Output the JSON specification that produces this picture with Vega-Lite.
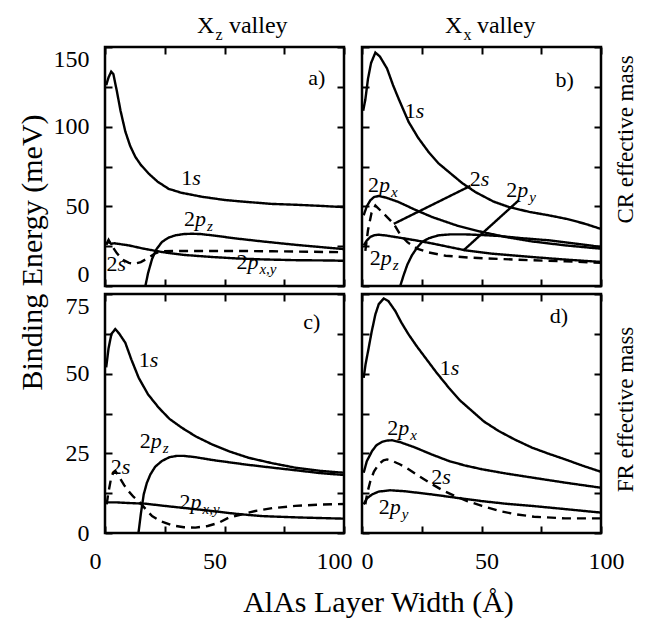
{
  "$schema": "https://vega.github.io/schema/vega-lite/v6.json",
  "background": "white",
  "padding": {"left": 15, "top": 12, "right": 5, "bottom": 5},
  "datasets": {
    "curves": [
      {"panel":"a","series":"1s","dash":"solid","x":0.5,"y":126},{"panel":"a","series":"1s","dash":"solid","x":1.5,"y":131},{"panel":"a","series":"1s","dash":"solid","x":2.6,"y":134.5},{"panel":"a","series":"1s","dash":"solid","x":3.5,"y":133},{"panel":"a","series":"1s","dash":"solid","x":5,"y":122},{"panel":"a","series":"1s","dash":"solid","x":6.5,"y":110},{"panel":"a","series":"1s","dash":"solid","x":8.5,"y":97},{"panel":"a","series":"1s","dash":"solid","x":10.5,"y":88},{"panel":"a","series":"1s","dash":"solid","x":12.7,"y":81},{"panel":"a","series":"1s","dash":"solid","x":15,"y":76},{"panel":"a","series":"1s","dash":"solid","x":18.3,"y":70.5},{"panel":"a","series":"1s","dash":"solid","x":22,"y":65.5},{"panel":"a","series":"1s","dash":"solid","x":26.6,"y":61},{"panel":"a","series":"1s","dash":"solid","x":32,"y":58.5},{"panel":"a","series":"1s","dash":"solid","x":40.6,"y":56},{"panel":"a","series":"1s","dash":"solid","x":50,"y":54},{"panel":"a","series":"1s","dash":"solid","x":57.3,"y":53},{"panel":"a","series":"1s","dash":"solid","x":70,"y":51.5},{"panel":"a","series":"1s","dash":"solid","x":79.6,"y":51},{"panel":"a","series":"1s","dash":"solid","x":90,"y":50.3},{"panel":"a","series":"1s","dash":"solid","x":100,"y":49.5},
      {"panel":"a","series":"2pz","dash":"solid","x":16.9,"y":0},{"panel":"a","series":"2pz","dash":"solid","x":18,"y":8},{"panel":"a","series":"2pz","dash":"solid","x":19.7,"y":17},{"panel":"a","series":"2pz","dash":"solid","x":21.5,"y":23},{"panel":"a","series":"2pz","dash":"solid","x":23.8,"y":27.6},{"panel":"a","series":"2pz","dash":"solid","x":26.5,"y":30.3},{"panel":"a","series":"2pz","dash":"solid","x":29.4,"y":31.8},{"panel":"a","series":"2pz","dash":"solid","x":33,"y":32.6},{"panel":"a","series":"2pz","dash":"solid","x":36.4,"y":32.8},{"panel":"a","series":"2pz","dash":"solid","x":40,"y":32.6},{"panel":"a","series":"2pz","dash":"solid","x":44.8,"y":31.8},{"panel":"a","series":"2pz","dash":"solid","x":55,"y":29.8},{"panel":"a","series":"2pz","dash":"solid","x":65.7,"y":28},{"panel":"a","series":"2pz","dash":"solid","x":80,"y":25.8},{"panel":"a","series":"2pz","dash":"solid","x":95,"y":23.8},{"panel":"a","series":"2pz","dash":"solid","x":100,"y":23.2},
      {"panel":"a","series":"2pxy","dash":"solid","x":0.5,"y":26},{"panel":"a","series":"2pxy","dash":"solid","x":1.5,"y":28},{"panel":"a","series":"2pxy","dash":"solid","x":2.5,"y":26.5},{"panel":"a","series":"2pxy","dash":"solid","x":4,"y":26.8},{"panel":"a","series":"2pxy","dash":"solid","x":9.9,"y":25.5},{"panel":"a","series":"2pxy","dash":"solid","x":16,"y":23.5},{"panel":"a","series":"2pxy","dash":"solid","x":23.8,"y":21.3},{"panel":"a","series":"2pxy","dash":"solid","x":33,"y":19.5},{"panel":"a","series":"2pxy","dash":"solid","x":44.8,"y":18.2},{"panel":"a","series":"2pxy","dash":"solid","x":55,"y":17.3},{"panel":"a","series":"2pxy","dash":"solid","x":65.7,"y":16.7},{"panel":"a","series":"2pxy","dash":"solid","x":80,"y":16.2},{"panel":"a","series":"2pxy","dash":"solid","x":95,"y":16},{"panel":"a","series":"2pxy","dash":"solid","x":100,"y":15.8},
      {"panel":"a","series":"2s","dash":"dashed","x":0.5,"y":26},{"panel":"a","series":"2s","dash":"dashed","x":1.5,"y":29},{"panel":"a","series":"2s","dash":"dashed","x":3,"y":25},{"panel":"a","series":"2s","dash":"dashed","x":5,"y":20.5},{"panel":"a","series":"2s","dash":"dashed","x":7.5,"y":16.5},{"panel":"a","series":"2s","dash":"dashed","x":10,"y":14.5},{"panel":"a","series":"2s","dash":"dashed","x":12.5,"y":14},{"panel":"a","series":"2s","dash":"dashed","x":15,"y":15},{"panel":"a","series":"2s","dash":"dashed","x":18,"y":17.5},{"panel":"a","series":"2s","dash":"dashed","x":21,"y":20.5},{"panel":"a","series":"2s","dash":"dashed","x":24,"y":21.8},{"panel":"a","series":"2s","dash":"dashed","x":30,"y":22},{"panel":"a","series":"2s","dash":"dashed","x":40,"y":22},{"panel":"a","series":"2s","dash":"dashed","x":55,"y":22},{"panel":"a","series":"2s","dash":"dashed","x":70,"y":21.8},{"panel":"a","series":"2s","dash":"dashed","x":85,"y":21.5},{"panel":"a","series":"2s","dash":"dashed","x":100,"y":21.2},

      {"panel":"b","series":"1s","dash":"solid","x":0.5,"y":110},{"panel":"b","series":"1s","dash":"solid","x":1.4,"y":117},{"panel":"b","series":"1s","dash":"solid","x":2.5,"y":130},{"panel":"b","series":"1s","dash":"solid","x":3.8,"y":140},{"panel":"b","series":"1s","dash":"solid","x":5.6,"y":146.5},{"panel":"b","series":"1s","dash":"solid","x":7.5,"y":144},{"panel":"b","series":"1s","dash":"solid","x":10.5,"y":136.4},{"panel":"b","series":"1s","dash":"solid","x":13,"y":126},{"panel":"b","series":"1s","dash":"solid","x":15.3,"y":117.6},{"panel":"b","series":"1s","dash":"solid","x":19.5,"y":103},{"panel":"b","series":"1s","dash":"solid","x":23.5,"y":93},{"panel":"b","series":"1s","dash":"solid","x":27.9,"y":84},{"panel":"b","series":"1s","dash":"solid","x":32,"y":77},{"panel":"b","series":"1s","dash":"solid","x":36.3,"y":71.6},{"panel":"b","series":"1s","dash":"solid","x":42,"y":64.5},{"panel":"b","series":"1s","dash":"solid","x":47.4,"y":59},{"panel":"b","series":"1s","dash":"solid","x":55,"y":53},{"panel":"b","series":"1s","dash":"solid","x":61.4,"y":49.6},{"panel":"b","series":"1s","dash":"solid","x":70,"y":46.5},{"panel":"b","series":"1s","dash":"solid","x":78,"y":44.4},{"panel":"b","series":"1s","dash":"solid","x":86,"y":42},{"panel":"b","series":"1s","dash":"solid","x":93.4,"y":39},{"panel":"b","series":"1s","dash":"solid","x":100,"y":35.8},
      {"panel":"b","series":"2px","dash":"solid","x":0.7,"y":44.4},{"panel":"b","series":"2px","dash":"solid","x":2,"y":50},{"panel":"b","series":"2px","dash":"solid","x":3.5,"y":53.8},{"panel":"b","series":"2px","dash":"solid","x":5,"y":55.8},{"panel":"b","series":"2px","dash":"solid","x":7,"y":56.5},{"panel":"b","series":"2px","dash":"solid","x":10,"y":55.5},{"panel":"b","series":"2px","dash":"solid","x":15.3,"y":52.7},{"panel":"b","series":"2px","dash":"solid","x":22,"y":48},{"panel":"b","series":"2px","dash":"solid","x":29.3,"y":43.3},{"panel":"b","series":"2px","dash":"solid","x":40,"y":37.8},{"panel":"b","series":"2px","dash":"solid","x":50.2,"y":33.9},{"panel":"b","series":"2px","dash":"solid","x":60,"y":30.8},{"panel":"b","series":"2px","dash":"solid","x":71,"y":28},{"panel":"b","series":"2px","dash":"solid","x":85,"y":25.5},{"panel":"b","series":"2px","dash":"solid","x":100,"y":23.4},
      {"panel":"b","series":"2pz","dash":"solid","x":16,"y":0},{"panel":"b","series":"2pz","dash":"solid","x":17.4,"y":6.7},{"panel":"b","series":"2pz","dash":"solid","x":19,"y":13.5},{"panel":"b","series":"2pz","dash":"solid","x":20.9,"y":19.3},{"panel":"b","series":"2pz","dash":"solid","x":23,"y":24},{"panel":"b","series":"2pz","dash":"solid","x":25.1,"y":27.6},{"panel":"b","series":"2pz","dash":"solid","x":28,"y":30},{"panel":"b","series":"2pz","dash":"solid","x":32,"y":31.8},{"panel":"b","series":"2pz","dash":"solid","x":37,"y":32.4},{"panel":"b","series":"2pz","dash":"solid","x":43.2,"y":32.4},{"panel":"b","series":"2pz","dash":"solid","x":50,"y":32},{"panel":"b","series":"2pz","dash":"solid","x":57.2,"y":31.4},{"panel":"b","series":"2pz","dash":"solid","x":67,"y":30},{"panel":"b","series":"2pz","dash":"solid","x":78,"y":28.7},{"panel":"b","series":"2pz","dash":"solid","x":90,"y":26.5},{"panel":"b","series":"2pz","dash":"solid","x":100,"y":24.5},
      {"panel":"b","series":"2py","dash":"solid","x":0.7,"y":25.5},{"panel":"b","series":"2py","dash":"solid","x":2,"y":28.5},{"panel":"b","series":"2py","dash":"solid","x":3.5,"y":30.8},{"panel":"b","series":"2py","dash":"solid","x":5,"y":31.8},{"panel":"b","series":"2py","dash":"solid","x":7,"y":32.2},{"panel":"b","series":"2py","dash":"solid","x":10,"y":31.7},{"panel":"b","series":"2py","dash":"solid","x":15,"y":30.5},{"panel":"b","series":"2py","dash":"solid","x":22.3,"y":28.7},{"panel":"b","series":"2py","dash":"solid","x":30,"y":26.5},{"panel":"b","series":"2py","dash":"solid","x":43.2,"y":22.4},{"panel":"b","series":"2py","dash":"solid","x":55,"y":20.2},{"panel":"b","series":"2py","dash":"solid","x":71,"y":18.2},{"panel":"b","series":"2py","dash":"solid","x":85,"y":16.6},{"panel":"b","series":"2py","dash":"solid","x":100,"y":15.1},
      {"panel":"b","series":"2s","dash":"dashed","x":1.4,"y":22},{"panel":"b","series":"2s","dash":"dashed","x":2.5,"y":35},{"panel":"b","series":"2s","dash":"dashed","x":4,"y":46},{"panel":"b","series":"2s","dash":"dashed","x":5.6,"y":50.5},{"panel":"b","series":"2s","dash":"dashed","x":8,"y":47},{"panel":"b","series":"2s","dash":"dashed","x":10,"y":44},{"panel":"b","series":"2s","dash":"dashed","x":13.3,"y":39},{"panel":"b","series":"2s","dash":"dashed","x":16,"y":32.2},{"panel":"b","series":"2s","dash":"dashed","x":19,"y":27.5},{"panel":"b","series":"2s","dash":"dashed","x":23,"y":23.5},{"panel":"b","series":"2s","dash":"dashed","x":28,"y":21},{"panel":"b","series":"2s","dash":"dashed","x":35,"y":19},{"panel":"b","series":"2s","dash":"dashed","x":45,"y":17.8},{"panel":"b","series":"2s","dash":"dashed","x":57,"y":17},{"panel":"b","series":"2s","dash":"dashed","x":70,"y":16.2},{"panel":"b","series":"2s","dash":"dashed","x":85,"y":15.5},{"panel":"b","series":"2s","dash":"dashed","x":100,"y":14.5},
      {"panel":"b","series":"lead2s","dash":"solid","x":13.3,"y":39},{"panel":"b","series":"lead2s","dash":"solid","x":45.3,"y":62.8},
      {"panel":"b","series":"lead2py","dash":"solid","x":42.5,"y":22.4},{"panel":"b","series":"lead2py","dash":"solid","x":65.6,"y":53.8},

      {"panel":"c","series":"1s","dash":"solid","x":0.5,"y":52},{"panel":"c","series":"1s","dash":"solid","x":1.5,"y":58},{"panel":"c","series":"1s","dash":"solid","x":2.7,"y":62.5},{"panel":"c","series":"1s","dash":"solid","x":4.3,"y":64},{"panel":"c","series":"1s","dash":"solid","x":6,"y":62.5},{"panel":"c","series":"1s","dash":"solid","x":8.5,"y":59.7},{"panel":"c","series":"1s","dash":"solid","x":11,"y":54.5},{"panel":"c","series":"1s","dash":"solid","x":14.1,"y":48.7},{"panel":"c","series":"1s","dash":"solid","x":18,"y":43.5},{"panel":"c","series":"1s","dash":"solid","x":22.5,"y":39.3},{"panel":"c","series":"1s","dash":"solid","x":27,"y":35.8},{"panel":"c","series":"1s","dash":"solid","x":32.2,"y":33},{"panel":"c","series":"1s","dash":"solid","x":38,"y":30.3},{"panel":"c","series":"1s","dash":"solid","x":44.8,"y":27.8},{"panel":"c","series":"1s","dash":"solid","x":52,"y":25.6},{"panel":"c","series":"1s","dash":"solid","x":60.1,"y":23.6},{"panel":"c","series":"1s","dash":"solid","x":70,"y":21.9},{"panel":"c","series":"1s","dash":"solid","x":79.6,"y":20.5},{"panel":"c","series":"1s","dash":"solid","x":90,"y":19.5},{"panel":"c","series":"1s","dash":"solid","x":100,"y":18.9},
      {"panel":"c","series":"2pz","dash":"solid","x":14,"y":0},{"panel":"c","series":"2pz","dash":"solid","x":15,"y":6},{"panel":"c","series":"2pz","dash":"solid","x":16.2,"y":12.1},{"panel":"c","series":"2pz","dash":"solid","x":17.5,"y":15.7},{"panel":"c","series":"2pz","dash":"solid","x":19,"y":18.4},{"panel":"c","series":"2pz","dash":"solid","x":21,"y":20.8},{"panel":"c","series":"2pz","dash":"solid","x":23.8,"y":22.6},{"panel":"c","series":"2pz","dash":"solid","x":27,"y":23.8},{"panel":"c","series":"2pz","dash":"solid","x":30.1,"y":24.2},{"panel":"c","series":"2pz","dash":"solid","x":33,"y":24.2},{"panel":"c","series":"2pz","dash":"solid","x":37.8,"y":23.8},{"panel":"c","series":"2pz","dash":"solid","x":45,"y":22.9},{"panel":"c","series":"2pz","dash":"solid","x":58.7,"y":21.5},{"panel":"c","series":"2pz","dash":"solid","x":70,"y":20.5},{"panel":"c","series":"2pz","dash":"solid","x":79.6,"y":19.7},{"panel":"c","series":"2pz","dash":"solid","x":90,"y":18.8},{"panel":"c","series":"2pz","dash":"solid","x":100,"y":18.2},
      {"panel":"c","series":"2pxy","dash":"solid","x":0.5,"y":9.6},{"panel":"c","series":"2pxy","dash":"solid","x":5,"y":9.6},{"panel":"c","series":"2pxy","dash":"solid","x":10,"y":9.4},{"panel":"c","series":"2pxy","dash":"solid","x":16.9,"y":9.2},{"panel":"c","series":"2pxy","dash":"solid","x":25,"y":8.5},{"panel":"c","series":"2pxy","dash":"solid","x":35,"y":7.7},{"panel":"c","series":"2pxy","dash":"solid","x":44.8,"y":6.9},{"panel":"c","series":"2pxy","dash":"solid","x":55,"y":6},{"panel":"c","series":"2pxy","dash":"solid","x":65.7,"y":5.3},{"panel":"c","series":"2pxy","dash":"solid","x":80,"y":4.9},{"panel":"c","series":"2pxy","dash":"solid","x":95,"y":4.6},{"panel":"c","series":"2pxy","dash":"solid","x":100,"y":4.5},
      {"panel":"c","series":"2s","dash":"dashed","x":0.7,"y":9},{"panel":"c","series":"2s","dash":"dashed","x":1.5,"y":13},{"panel":"c","series":"2s","dash":"dashed","x":2.5,"y":17},{"panel":"c","series":"2s","dash":"dashed","x":3.5,"y":19},{"panel":"c","series":"2s","dash":"dashed","x":4.3,"y":19.5},{"panel":"c","series":"2s","dash":"dashed","x":6,"y":17.5},{"panel":"c","series":"2s","dash":"dashed","x":8,"y":15},{"panel":"c","series":"2s","dash":"dashed","x":10,"y":13},{"panel":"c","series":"2s","dash":"dashed","x":12,"y":11.3},{"panel":"c","series":"2s","dash":"dashed","x":14.1,"y":10},{"panel":"c","series":"2s","dash":"dashed","x":17,"y":7.5},{"panel":"c","series":"2s","dash":"dashed","x":19.7,"y":5.3},{"panel":"c","series":"2s","dash":"dashed","x":23,"y":3.8},{"panel":"c","series":"2s","dash":"dashed","x":28,"y":2.4},{"panel":"c","series":"2s","dash":"dashed","x":33,"y":1.8},{"panel":"c","series":"2s","dash":"dashed","x":37.8,"y":1.7},{"panel":"c","series":"2s","dash":"dashed","x":43,"y":2.2},{"panel":"c","series":"2s","dash":"dashed","x":47.6,"y":3.2},{"panel":"c","series":"2s","dash":"dashed","x":51.7,"y":4.8},{"panel":"c","series":"2s","dash":"dashed","x":57,"y":5.8},{"panel":"c","series":"2s","dash":"dashed","x":62.9,"y":6.9},{"panel":"c","series":"2s","dash":"dashed","x":70,"y":7.8},{"panel":"c","series":"2s","dash":"dashed","x":79.6,"y":8.5},{"panel":"c","series":"2s","dash":"dashed","x":90,"y":8.9},{"panel":"c","series":"2s","dash":"dashed","x":100,"y":9.1},

      {"panel":"d","series":"1s","dash":"solid","x":0.7,"y":48.7},{"panel":"d","series":"1s","dash":"solid","x":1.5,"y":53},{"panel":"d","series":"1s","dash":"solid","x":2.8,"y":58.1},{"panel":"d","series":"1s","dash":"solid","x":4,"y":63},{"panel":"d","series":"1s","dash":"solid","x":5.6,"y":68.6},{"panel":"d","series":"1s","dash":"solid","x":7,"y":71.8},{"panel":"d","series":"1s","dash":"solid","x":9.1,"y":73.6},{"panel":"d","series":"1s","dash":"solid","x":11,"y":72.8},{"panel":"d","series":"1s","dash":"solid","x":13.9,"y":69.7},{"panel":"d","series":"1s","dash":"solid","x":16.5,"y":66},{"panel":"d","series":"1s","dash":"solid","x":19.5,"y":62.3},{"panel":"d","series":"1s","dash":"solid","x":23,"y":58.5},{"panel":"d","series":"1s","dash":"solid","x":26.5,"y":55},{"panel":"d","series":"1s","dash":"solid","x":31,"y":50.5},{"panel":"d","series":"1s","dash":"solid","x":36.3,"y":45.6},{"panel":"d","series":"1s","dash":"solid","x":41,"y":41.6},{"panel":"d","series":"1s","dash":"solid","x":46,"y":38.3},{"panel":"d","series":"1s","dash":"solid","x":51,"y":35},{"panel":"d","series":"1s","dash":"solid","x":57.2,"y":32},{"panel":"d","series":"1s","dash":"solid","x":64,"y":29.3},{"panel":"d","series":"1s","dash":"solid","x":71.1,"y":26.8},{"panel":"d","series":"1s","dash":"solid","x":78,"y":24.9},{"panel":"d","series":"1s","dash":"solid","x":85,"y":23.1},{"panel":"d","series":"1s","dash":"solid","x":92,"y":21.2},{"panel":"d","series":"1s","dash":"solid","x":100,"y":19.2},
      {"panel":"d","series":"2px","dash":"solid","x":0.7,"y":18.9},{"panel":"d","series":"2px","dash":"solid","x":2,"y":22.5},{"panel":"d","series":"2px","dash":"solid","x":4.2,"y":25.7},{"panel":"d","series":"2px","dash":"solid","x":6,"y":27.5},{"panel":"d","series":"2px","dash":"solid","x":8.4,"y":28.6},{"panel":"d","series":"2px","dash":"solid","x":10.5,"y":29},{"panel":"d","series":"2px","dash":"solid","x":12.6,"y":29.1},{"panel":"d","series":"2px","dash":"solid","x":16,"y":28.5},{"panel":"d","series":"2px","dash":"solid","x":22.3,"y":26.8},{"panel":"d","series":"2px","dash":"solid","x":29,"y":24.7},{"panel":"d","series":"2px","dash":"solid","x":36.3,"y":22.6},{"panel":"d","series":"2px","dash":"solid","x":43,"y":21.2},{"panel":"d","series":"2px","dash":"solid","x":50.2,"y":20},{"panel":"d","series":"2px","dash":"solid","x":60,"y":18.7},{"panel":"d","series":"2px","dash":"solid","x":71.1,"y":17.4},{"panel":"d","series":"2px","dash":"solid","x":85,"y":15.8},{"panel":"d","series":"2px","dash":"solid","x":100,"y":14.2},
      {"panel":"d","series":"2py","dash":"solid","x":0.7,"y":9},{"panel":"d","series":"2py","dash":"solid","x":2,"y":10.8},{"panel":"d","series":"2py","dash":"solid","x":4.2,"y":12.1},{"panel":"d","series":"2py","dash":"solid","x":7,"y":13},{"panel":"d","series":"2py","dash":"solid","x":11.8,"y":13.4},{"panel":"d","series":"2py","dash":"solid","x":18,"y":13.1},{"panel":"d","series":"2py","dash":"solid","x":29.3,"y":12.1},{"panel":"d","series":"2py","dash":"solid","x":40,"y":11},{"panel":"d","series":"2py","dash":"solid","x":50.2,"y":10},{"panel":"d","series":"2py","dash":"solid","x":60,"y":9.2},{"panel":"d","series":"2py","dash":"solid","x":71.1,"y":8.5},{"panel":"d","series":"2py","dash":"solid","x":85,"y":7.5},{"panel":"d","series":"2py","dash":"solid","x":100,"y":6.4},
      {"panel":"d","series":"2s","dash":"dashed","x":1.4,"y":9},{"panel":"d","series":"2s","dash":"dashed","x":2.2,"y":12.5},{"panel":"d","series":"2s","dash":"dashed","x":3.5,"y":16.3},{"panel":"d","series":"2s","dash":"dashed","x":5,"y":19.3},{"panel":"d","series":"2s","dash":"dashed","x":7,"y":21.6},{"panel":"d","series":"2s","dash":"dashed","x":9,"y":22.8},{"panel":"d","series":"2s","dash":"dashed","x":10.5,"y":23.1},{"panel":"d","series":"2s","dash":"dashed","x":13,"y":22.5},{"panel":"d","series":"2s","dash":"dashed","x":16,"y":21.5},{"panel":"d","series":"2s","dash":"dashed","x":19.5,"y":20},{"panel":"d","series":"2s","dash":"dashed","x":24,"y":17.8},{"panel":"d","series":"2s","dash":"dashed","x":29.3,"y":15.3},{"panel":"d","series":"2s","dash":"dashed","x":34,"y":13.3},{"panel":"d","series":"2s","dash":"dashed","x":39,"y":11.6},{"panel":"d","series":"2s","dash":"dashed","x":44,"y":10},{"panel":"d","series":"2s","dash":"dashed","x":50.2,"y":8.5},{"panel":"d","series":"2s","dash":"dashed","x":57,"y":7},{"panel":"d","series":"2s","dash":"dashed","x":64.1,"y":5.9},{"panel":"d","series":"2s","dash":"dashed","x":72,"y":5.1},{"panel":"d","series":"2s","dash":"dashed","x":85,"y":4.6},{"panel":"d","series":"2s","dash":"dashed","x":100,"y":4.6}
    ],
    "labels": [
      {"panel":"a","x":92.2,"y":126,"num":"a)","let":"","sub":""},
      {"panel":"a","x":36.5,"y":63.6,"num":"1","let":"s","sub":""},
      {"panel":"a","x":37.7,"y":37.7,"num":"2","let":"p","sub":"z"},
      {"panel":"a","x":5.2,"y":9.2,"num":"2","let":"s","sub":""},
      {"panel":"a","x":59.6,"y":10.9,"num":"2","let":"p","sub":"x,y"},
      {"panel":"b","x":88.6,"y":124.9,"num":"b)","let":"","sub":""},
      {"panel":"b","x":22.5,"y":105.5,"num":"1","let":"s","sub":""},
      {"panel":"b","x":49.7,"y":62.8,"num":"2","let":"s","sub":""},
      {"panel":"b","x":65,"y":55.9,"num":"2","let":"p","sub":"y"},
      {"panel":"b","x":7.1,"y":59,"num":"2","let":"p","sub":"x"},
      {"panel":"b","x":7.8,"y":13,"num":"2","let":"p","sub":"z"},
      {"panel":"c","x":90.1,"y":63.9,"num":"c)","let":"","sub":""},
      {"panel":"c","x":18.7,"y":52.1,"num":"1","let":"s","sub":""},
      {"panel":"c","x":19.1,"y":26.8,"num":"2","let":"p","sub":"z"},
      {"panel":"c","x":7,"y":18.6,"num":"2","let":"s","sub":""},
      {"panel":"c","x":35.8,"y":7.4,"num":"2","let":"p","sub":"x,y"},
      {"panel":"d","x":86.2,"y":66,"num":"d)","let":"","sub":""},
      {"panel":"d","x":37.1,"y":49.6,"num":"1","let":"s","sub":""},
      {"panel":"d","x":15.2,"y":30.7,"num":"2","let":"p","sub":"x"},
      {"panel":"d","x":33.6,"y":15.5,"num":"2","let":"s","sub":""},
      {"panel":"d","x":11.6,"y":5.9,"num":"2","let":"p","sub":"y"}
    ],
    "heads": [
      {"panel":"a","x":45.8,"y":159,"main":"X","sub":"z","rest":"valley"},
      {"panel":"b","x":42,"y":159,"main":"X","sub":"x","rest":"valley"}
    ]
  },
  "concat": [
    {
      "width": 239, "height": 239,
      "layer": [
        {
          "data": {"name": "curves"},
          "transform": [{"filter": "datum.panel === 'a'"}],
          "mark": {"type": "line", "color": "black", "strokeWidth": 2.4, "clip": true},
          "encoding": {
            "x": {"field": "x", "type": "quantitative", "scale": {"domain": [0, 100], "nice": false}, "axis": {"orient": "bottom", "values": [0, 25, 50, 75, 100], "labels": false, "title": null}},
            "y": {"field": "y", "type": "quantitative", "scale": {"domain": [0, 150], "nice": false}, "axis": {"orient": "left", "values": [0, 25, 50, 75, 100, 125, 150], "labelExpr": "datum.value % 50 === 0 ? datum.label : ''", "labelFlush": true, "title": "Binding Energy (meV)", "titleY": 205, "titlePadding": 6}},
            "detail": {"field": "series", "type": "nominal"},
            "strokeDash": {"field": "dash", "type": "nominal", "scale": {"domain": ["solid", "dashed"], "range": [[1, 0], [9, 6]]}, "legend": null}
          }
        },
        {
          "data": {"name": "labels"},
          "transform": [{"filter": "datum.panel === 'a'"}],
          "mark": {"type": "text", "align": "right", "baseline": "alphabetic", "font": "Liberation Serif, Times New Roman, Times, DejaVu Serif, serif", "fontSize": 22, "color": "black"},
          "encoding": {
            "x": {"field": "x", "type": "quantitative", "axis": {"orient": "top", "values": [0, 25, 50, 75, 100], "labels": false, "title": null}},
            "y": {"field": "y", "type": "quantitative", "axis": {"orient": "right", "values": [0, 25, 50, 75, 100, 125, 150], "labels": false, "title": null}},
            "text": {"field": "num"}
          }
        },
        {
          "data": {"name": "labels"},
          "transform": [{"filter": "datum.panel === 'a'"}],
          "mark": {"type": "text", "align": "left", "baseline": "alphabetic", "font": "Liberation Serif, Times New Roman, Times, DejaVu Serif, serif", "fontSize": 22, "fontStyle": "italic", "color": "black"},
          "encoding": {"x": {"field": "x", "type": "quantitative", "axis": null}, "y": {"field": "y", "type": "quantitative", "axis": null}, "text": {"field": "let"}}
        },
        {
          "data": {"name": "labels"},
          "transform": [{"filter": "datum.panel === 'a'"}],
          "mark": {"type": "text", "align": "left", "baseline": "alphabetic", "font": "Liberation Serif, Times New Roman, Times, DejaVu Serif, serif", "fontSize": 15, "fontStyle": "italic", "color": "black", "dx": 12, "dy": 5},
          "encoding": {"x": {"field": "x", "type": "quantitative", "axis": null}, "y": {"field": "y", "type": "quantitative", "axis": null}, "text": {"field": "sub"}}
        },
        {
          "data": {"name": "heads"},
          "transform": [{"filter": "datum.panel === 'a'"}],
          "mark": {"type": "text", "align": "right", "baseline": "alphabetic", "font": "Liberation Serif, Times New Roman, Times, DejaVu Serif, serif", "fontSize": 24, "color": "black"},
          "encoding": {"x": {"field": "x", "type": "quantitative", "axis": null}, "y": {"field": "y", "type": "quantitative", "axis": null}, "text": {"field": "main"}}
        },
        {
          "data": {"name": "heads"},
          "transform": [{"filter": "datum.panel === 'a'"}],
          "mark": {"type": "text", "align": "left", "baseline": "alphabetic", "font": "Liberation Serif, Times New Roman, Times, DejaVu Serif, serif", "fontSize": 16, "color": "black", "dx": 1, "dy": 7},
          "encoding": {"x": {"field": "x", "type": "quantitative", "axis": null}, "y": {"field": "y", "type": "quantitative", "axis": null}, "text": {"field": "sub"}}
        },
        {
          "data": {"name": "heads"},
          "transform": [{"filter": "datum.panel === 'a'"}],
          "mark": {"type": "text", "align": "left", "baseline": "alphabetic", "font": "Liberation Serif, Times New Roman, Times, DejaVu Serif, serif", "fontSize": 24, "color": "black", "dx": 14.5},
          "encoding": {"x": {"field": "x", "type": "quantitative", "axis": null}, "y": {"field": "y", "type": "quantitative", "axis": null}, "text": {"field": "rest"}}
        }
      ],
      "resolve": {"axis": {"x": "independent", "y": "independent"}}
    },
    {
      "width": 239, "height": 239,
      "layer": [
        {
          "data": {"name": "curves"},
          "transform": [{"filter": "datum.panel === 'b'"}],
          "mark": {"type": "line", "color": "black", "strokeWidth": 2.4, "clip": true},
          "encoding": {
            "x": {"field": "x", "type": "quantitative", "scale": {"domain": [0, 100], "nice": false}, "axis": {"orient": "bottom", "values": [0, 25, 50, 75, 100], "labels": false, "title": null}},
            "y": {"field": "y", "type": "quantitative", "scale": {"domain": [0, 150], "nice": false}, "axis": {"orient": "left", "values": [0, 25, 50, 75, 100, 125, 150], "labels": false, "title": null}},
            "detail": {"field": "series", "type": "nominal"},
            "strokeDash": {"field": "dash", "type": "nominal", "scale": {"domain": ["solid", "dashed"], "range": [[1, 0], [9, 6]]}, "legend": null}
          }
        },
        {
          "data": {"name": "labels"},
          "transform": [{"filter": "datum.panel === 'b'"}],
          "mark": {"type": "text", "align": "right", "baseline": "alphabetic", "font": "Liberation Serif, Times New Roman, Times, DejaVu Serif, serif", "fontSize": 22, "color": "black"},
          "encoding": {
            "x": {"field": "x", "type": "quantitative", "axis": {"orient": "top", "values": [0, 25, 50, 75, 100], "labels": false, "title": null}},
            "y": {"field": "y", "type": "quantitative", "axis": {"orient": "right", "values": [0, 25, 50, 75, 100, 125, 150], "labels": false, "title": "CR effective mass", "titleAngle": 270, "titleBaseline": "top", "titleFontSize": 23, "titleY": 92, "titlePadding": 12}},
            "text": {"field": "num"}
          }
        },
        {
          "data": {"name": "labels"},
          "transform": [{"filter": "datum.panel === 'b'"}],
          "mark": {"type": "text", "align": "left", "baseline": "alphabetic", "font": "Liberation Serif, Times New Roman, Times, DejaVu Serif, serif", "fontSize": 22, "fontStyle": "italic", "color": "black"},
          "encoding": {"x": {"field": "x", "type": "quantitative", "axis": null}, "y": {"field": "y", "type": "quantitative", "axis": null}, "text": {"field": "let"}}
        },
        {
          "data": {"name": "labels"},
          "transform": [{"filter": "datum.panel === 'b'"}],
          "mark": {"type": "text", "align": "left", "baseline": "alphabetic", "font": "Liberation Serif, Times New Roman, Times, DejaVu Serif, serif", "fontSize": 15, "fontStyle": "italic", "color": "black", "dx": 12, "dy": 5},
          "encoding": {"x": {"field": "x", "type": "quantitative", "axis": null}, "y": {"field": "y", "type": "quantitative", "axis": null}, "text": {"field": "sub"}}
        },
        {
          "data": {"name": "heads"},
          "transform": [{"filter": "datum.panel === 'b'"}],
          "mark": {"type": "text", "align": "right", "baseline": "alphabetic", "font": "Liberation Serif, Times New Roman, Times, DejaVu Serif, serif", "fontSize": 24, "color": "black"},
          "encoding": {"x": {"field": "x", "type": "quantitative", "axis": null}, "y": {"field": "y", "type": "quantitative", "axis": null}, "text": {"field": "main"}}
        },
        {
          "data": {"name": "heads"},
          "transform": [{"filter": "datum.panel === 'b'"}],
          "mark": {"type": "text", "align": "left", "baseline": "alphabetic", "font": "Liberation Serif, Times New Roman, Times, DejaVu Serif, serif", "fontSize": 16, "color": "black", "dx": 1, "dy": 7},
          "encoding": {"x": {"field": "x", "type": "quantitative", "axis": null}, "y": {"field": "y", "type": "quantitative", "axis": null}, "text": {"field": "sub"}}
        },
        {
          "data": {"name": "heads"},
          "transform": [{"filter": "datum.panel === 'b'"}],
          "mark": {"type": "text", "align": "left", "baseline": "alphabetic", "font": "Liberation Serif, Times New Roman, Times, DejaVu Serif, serif", "fontSize": 24, "color": "black", "dx": 14.5},
          "encoding": {"x": {"field": "x", "type": "quantitative", "axis": null}, "y": {"field": "y", "type": "quantitative", "axis": null}, "text": {"field": "rest"}}
        }
      ],
      "resolve": {"axis": {"x": "independent", "y": "independent"}}
    },
    {
      "width": 239, "height": 239,
      "layer": [
        {
          "data": {"name": "curves"},
          "transform": [{"filter": "datum.panel === 'c'"}],
          "mark": {"type": "line", "color": "black", "strokeWidth": 2.4, "clip": true},
          "encoding": {
            "x": {"field": "x", "type": "quantitative", "scale": {"domain": [0, 100], "nice": false}, "axis": {"orient": "bottom", "values": [0, 25, 50, 75, 100], "labelExpr": "datum.value % 50 === 0 ? datum.label : ''", "labelFlush": false, "labelOffset": -10, "title": "AlAs Layer Width (Å)", "titleX": 273, "titlePadding": 14}},
            "y": {"field": "y", "type": "quantitative", "scale": {"domain": [0, 75], "nice": false}, "axis": {"orient": "left", "values": [0, 12.5, 25, 37.5, 50, 62.5, 75], "labelExpr": "datum.value % 25 === 0 ? datum.label : ''", "labelFlush": false, "labelBaseline": {"condition": {"test": "datum.value === 75", "value": "top"}, "value": "middle"}, "title": null}},
            "detail": {"field": "series", "type": "nominal"},
            "strokeDash": {"field": "dash", "type": "nominal", "scale": {"domain": ["solid", "dashed"], "range": [[1, 0], [9, 6]]}, "legend": null}
          }
        },
        {
          "data": {"name": "labels"},
          "transform": [{"filter": "datum.panel === 'c'"}],
          "mark": {"type": "text", "align": "right", "baseline": "alphabetic", "font": "Liberation Serif, Times New Roman, Times, DejaVu Serif, serif", "fontSize": 22, "color": "black"},
          "encoding": {
            "x": {"field": "x", "type": "quantitative", "axis": {"orient": "top", "values": [0, 25, 50, 75, 100], "labels": false, "title": null}},
            "y": {"field": "y", "type": "quantitative", "axis": {"orient": "right", "values": [0, 12.5, 25, 37.5, 50, 62.5, 75], "labels": false, "title": null}},
            "text": {"field": "num"}
          }
        },
        {
          "data": {"name": "labels"},
          "transform": [{"filter": "datum.panel === 'c'"}],
          "mark": {"type": "text", "align": "left", "baseline": "alphabetic", "font": "Liberation Serif, Times New Roman, Times, DejaVu Serif, serif", "fontSize": 22, "fontStyle": "italic", "color": "black"},
          "encoding": {"x": {"field": "x", "type": "quantitative", "axis": null}, "y": {"field": "y", "type": "quantitative", "axis": null}, "text": {"field": "let"}}
        },
        {
          "data": {"name": "labels"},
          "transform": [{"filter": "datum.panel === 'c'"}],
          "mark": {"type": "text", "align": "left", "baseline": "alphabetic", "font": "Liberation Serif, Times New Roman, Times, DejaVu Serif, serif", "fontSize": 15, "fontStyle": "italic", "color": "black", "dx": 12, "dy": 5},
          "encoding": {"x": {"field": "x", "type": "quantitative", "axis": null}, "y": {"field": "y", "type": "quantitative", "axis": null}, "text": {"field": "sub"}}
        }
      ],
      "resolve": {"axis": {"x": "independent", "y": "independent"}}
    },
    {
      "width": 239, "height": 239,
      "layer": [
        {
          "data": {"name": "curves"},
          "transform": [{"filter": "datum.panel === 'd'"}],
          "mark": {"type": "line", "color": "black", "strokeWidth": 2.4, "clip": true},
          "encoding": {
            "x": {"field": "x", "type": "quantitative", "scale": {"domain": [0, 100], "nice": false}, "axis": {"orient": "bottom", "values": [0, 25, 50, 75, 100], "labelExpr": "datum.value % 50 === 0 ? datum.label : ''", "labelFlush": false, "labelOffset": 5, "title": null}},
            "y": {"field": "y", "type": "quantitative", "scale": {"domain": [0, 75], "nice": false}, "axis": {"orient": "left", "values": [0, 12.5, 25, 37.5, 50, 62.5, 75], "labels": false, "title": null}},
            "detail": {"field": "series", "type": "nominal"},
            "strokeDash": {"field": "dash", "type": "nominal", "scale": {"domain": ["solid", "dashed"], "range": [[1, 0], [9, 6]]}, "legend": null}
          }
        },
        {
          "data": {"name": "labels"},
          "transform": [{"filter": "datum.panel === 'd'"}],
          "mark": {"type": "text", "align": "right", "baseline": "alphabetic", "font": "Liberation Serif, Times New Roman, Times, DejaVu Serif, serif", "fontSize": 22, "color": "black"},
          "encoding": {
            "x": {"field": "x", "type": "quantitative", "axis": {"orient": "top", "values": [0, 25, 50, 75, 100], "labels": false, "title": null}},
            "y": {"field": "y", "type": "quantitative", "axis": {"orient": "right", "values": [0, 12.5, 25, 37.5, 50, 62.5, 75], "labels": false, "title": "FR effective mass", "titleAngle": 270, "titleBaseline": "top", "titleFontSize": 23, "titleY": 115, "titlePadding": 12}},
            "text": {"field": "num"}
          }
        },
        {
          "data": {"name": "labels"},
          "transform": [{"filter": "datum.panel === 'd'"}],
          "mark": {"type": "text", "align": "left", "baseline": "alphabetic", "font": "Liberation Serif, Times New Roman, Times, DejaVu Serif, serif", "fontSize": 22, "fontStyle": "italic", "color": "black"},
          "encoding": {"x": {"field": "x", "type": "quantitative", "axis": null}, "y": {"field": "y", "type": "quantitative", "axis": null}, "text": {"field": "let"}}
        },
        {
          "data": {"name": "labels"},
          "transform": [{"filter": "datum.panel === 'd'"}],
          "mark": {"type": "text", "align": "left", "baseline": "alphabetic", "font": "Liberation Serif, Times New Roman, Times, DejaVu Serif, serif", "fontSize": 15, "fontStyle": "italic", "color": "black", "dx": 12, "dy": 5},
          "encoding": {"x": {"field": "x", "type": "quantitative", "axis": null}, "y": {"field": "y", "type": "quantitative", "axis": null}, "text": {"field": "sub"}}
        }
      ],
      "resolve": {"axis": {"x": "independent", "y": "independent"}}
    }
  ],
  "columns": 2,
  "spacing": {"row": 8, "column": 18},
  "bounds": "flush",
  "config": {
    "font": "Liberation Serif, Times New Roman, Times, DejaVu Serif, serif",
    "view": {"stroke": "black", "strokeWidth": 2.5},
    "axis": {
      "grid": false, "domain": false,
      "tickColor": "black", "tickWidth": 2, "tickSize": -7,
      "labelFont": "Liberation Serif, Times New Roman, Times, DejaVu Serif, serif", "labelFontSize": 24, "labelColor": "black", "labelPadding": 23, "labelOverlap": false,
      "titleFont": "Liberation Serif, Times New Roman, Times, DejaVu Serif, serif", "titleFontSize": 30, "titleFontWeight": "normal", "titleColor": "black"
    }
  }
}
